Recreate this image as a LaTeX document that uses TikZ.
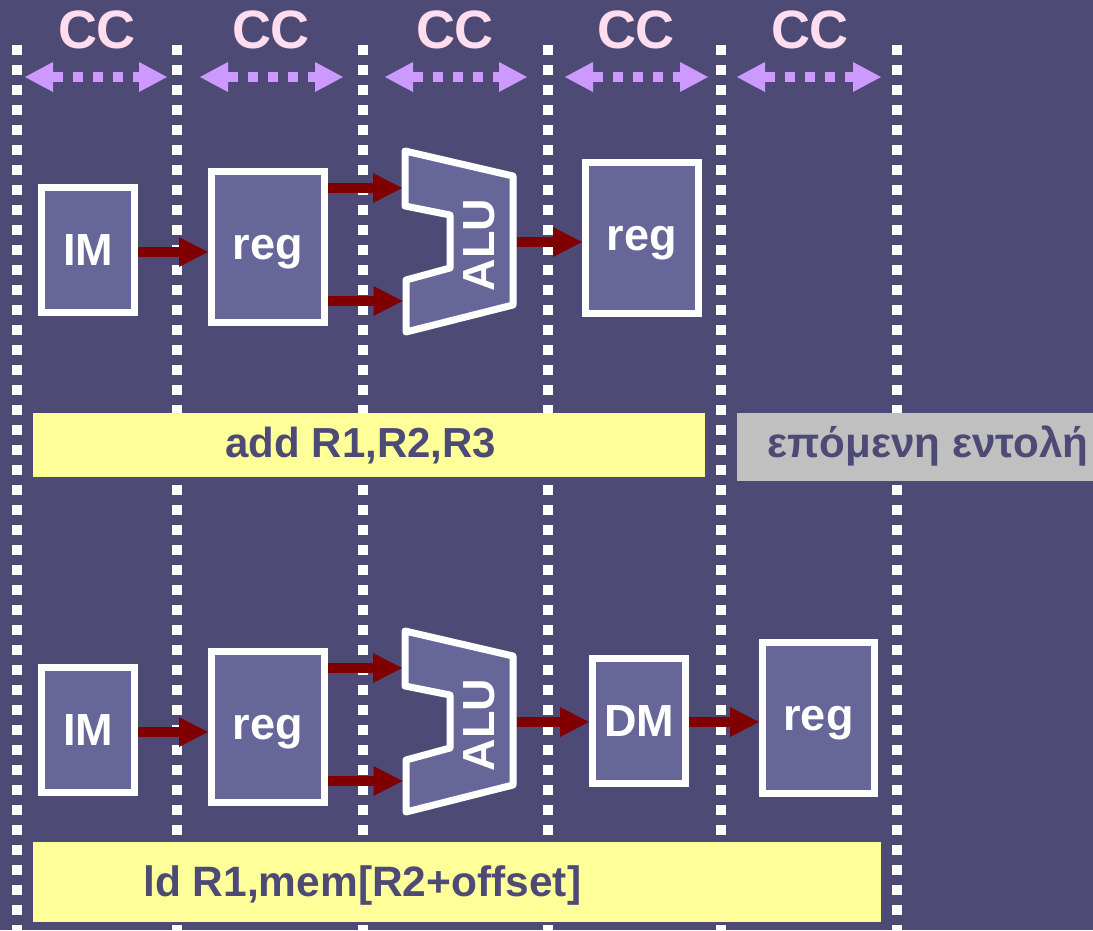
\documentclass[tikz,border=0pt]{standalone}
\usepackage{fontspec}
\setmainfont{Liberation Sans}
\usetikzlibrary{arrows.meta}
\definecolor{bg}{RGB}{77,75,118}
\definecolor{boxfill}{RGB}{102,102,153}
\definecolor{yel}{RGB}{255,255,153}
\definecolor{gry}{RGB}{192,192,192}
\definecolor{darkred}{RGB}{128,0,0}
\definecolor{lav}{RGB}{204,153,255}
\definecolor{pinkc}{RGB}{255,221,238}
\begin{document}
\begin{tikzpicture}[x=1pt,y=-1pt,
  unit/.style={draw=white, line width=7pt, fill=boxfill, inner sep=0pt, text=white,
    text depth=0pt, font=\bfseries\fontsize{45}{45}\selectfont},
  alushape/.style={draw=white, line width=7pt, fill=boxfill, line join=round},
  alulabel/.style={rotate=90, inner sep=0pt, text=white, font=\bfseries\fontsize{45}{45}\selectfont},
  tick/.style={white, line width=10pt, dash pattern=on 10pt off 10pt},
  flow/.style={darkred, line width=10pt, -{Triangle[length=29pt,width=30pt,line width=0pt]}},
  span/.style={lav, line width=10pt, dash pattern=on 10pt off 10pt,
    {Triangle[length=28pt,width=30pt,line width=0pt]}-{Triangle[length=28pt,width=30pt,line width=0pt]}},
  cclab/.style={text=pinkc, inner sep=0pt, font=\bfseries\fontsize{54}{54}\selectfont},
  bandbox/.style={inner sep=0pt, outer sep=0pt},
  bandtext/.style={inner sep=0pt, text=bg},
]
\useasboundingbox (0,0) rectangle (1093,930);
\fill[bg] (0,0) rectangle (1093,930);

% dotted clock boundaries
\foreach \x in {17,177,363,548,721,897}
  \draw[tick] (\x,45) -- (\x,930);

% clock cycle labels and spans
\node[cclab] (cc1) at (97,30) {CC};
\node[cclab] (cc2) at (271,30) {CC};
\node[cclab] (cc3) at (455,30) {CC};
\node[cclab] (cc4) at (636,30) {CC};
\node[cclab] (cc5) at (810,30) {CC};
\coordinate (s1a) at (25,77);  \coordinate (s1b) at (167,77);
\coordinate (s2a) at (200,77); \coordinate (s2b) at (343,77);
\coordinate (s3a) at (385,77); \coordinate (s3b) at (527,77);
\coordinate (s4a) at (565,77); \coordinate (s4b) at (708,77);
\coordinate (s5a) at (737,77); \coordinate (s5b) at (881,77);
\draw[span] (s1a) -- (s1b);
\draw[span] (s2a) -- (s2b);
\draw[span] (s3a) -- (s3b);
\draw[span] (s4a) -- (s4b);
\draw[span] (s5a) -- (s5b);

% ---------- first instruction ----------
\node[unit, minimum width=93pt, minimum height=125pt] (im1) at (88,250) {IM};
\node[unit, minimum width=113pt, minimum height=151pt] (reg1) at (268,247) {reg};
\draw[alushape] (405,151) -- (513,176) -- (513,305) -- (406,332) -- (406,280)
  -- (450,268) -- (450,215) -- (405,206) -- cycle;
\node[alulabel] (alu1txt) at (479,245) {ALU};
\node[unit, minimum width=113pt, minimum height=151pt] (reg3) at (642,238) {reg};
\coordinate (alu1a) at (402,188);
\coordinate (alu1b) at (402.5,301);
\coordinate (alu1o) at (516.5,242);
\coordinate (row1) at (0,252);
\draw[flow] (im1.east |- row1) -- (reg1.west |- row1);
\draw[flow] (reg1.east |- alu1a) -- (alu1a);
\draw[flow] (reg1.east |- alu1b) -- (alu1b);
\draw[flow] (alu1o) -- (reg3.west |- alu1o);

% ---------- second instruction ----------
\node[unit, minimum width=93pt, minimum height=125pt] (im2) at (88,730) {IM};
\node[unit, minimum width=113pt, minimum height=151pt] (reg2) at (268,727) {reg};
\draw[alushape] (405,631) -- (513,656) -- (513,785) -- (406,812) -- (406,760)
  -- (450,748) -- (450,695) -- (405,686) -- cycle;
\node[alulabel] (alu2txt) at (479,725) {ALU};
\node[unit, minimum width=93pt, minimum height=125pt] (dm) at (639,721) {DM};
\node[unit, minimum width=112pt, minimum height=151pt] (reg5) at (818.5,718) {reg};
\coordinate (alu2a) at (402,668);
\coordinate (alu2b) at (402.5,781);
\coordinate (alu2o) at (516.5,722);
\coordinate (row2) at (0,732);
\draw[flow] (im2.east |- row2) -- (reg2.west |- row2);
\draw[flow] (reg2.east |- alu2a) -- (alu2a);
\draw[flow] (reg2.east |- alu2b) -- (alu2b);
\draw[flow] (alu2o) -- (dm.west |- alu2o);
\draw[flow] (dm.east |- alu2o) -- (reg5.west |- alu2o);

% ---------- instruction bands ----------
\node[bandbox, fill=yel, minimum width=672pt, minimum height=64pt] (addbox) at (369,445) {};
\node[bandtext, anchor=base, font=\bfseries\fontsize{42}{42}\selectfont] (addtxt) at (361,457) {add R1,R2,R3};
\node[bandbox, fill=gry, minimum width=356pt, minimum height=68pt] (nextbox) at (915,447) {};
\node[bandtext, anchor=base west] (nexttxt) at (767,457)
  {\resizebox{321pt}{!}{\bfseries\fontsize{43}{43}\selectfont επόμενη εντολή}};
\node[bandbox, fill=yel, minimum width=848pt, minimum height=80pt] (ldbox) at (457,882) {};
\node[bandtext, anchor=base west, font=\bfseries\fontsize{42.5}{42.5}\selectfont] (ldtxt) at (143,896) {ld R1,mem[R2+offset]};
\end{tikzpicture}
\end{document}
